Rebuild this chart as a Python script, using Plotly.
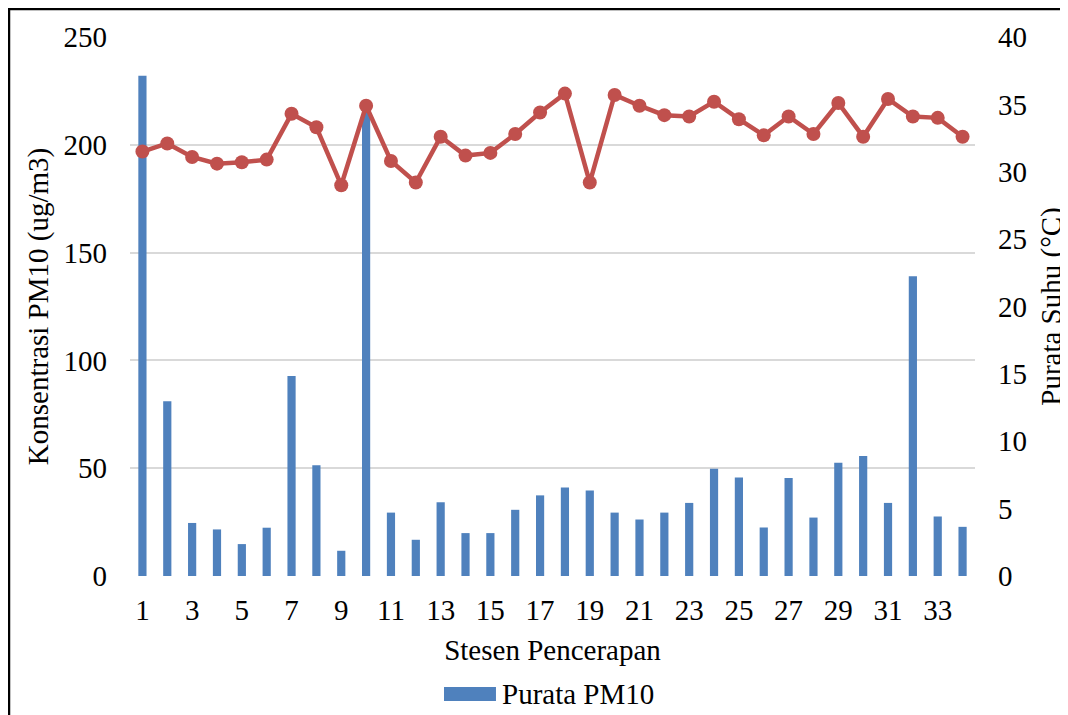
import plotly.graph_objects as go

stations = list(range(1, 35))
pm10 = [232, 81, 24.6, 21.6, 14.8, 22.4, 92.8, 51.4, 11.7, 216,
        29.4, 16.8, 34.2, 19.9, 19.9, 30.7, 37.4, 41.1, 39.7, 29.4,
        26.2, 29.4, 33.9, 49.7, 45.7, 22.5, 45.4, 27.1, 52.5, 55.7,
        33.9, 139, 27.6, 22.8]
suhu = [31.5, 32.1, 31.1, 30.6, 30.7, 30.9, 34.3, 33.3, 29.0, 34.9,
        30.8, 29.2, 32.6, 31.2, 31.4, 32.8, 34.4, 35.8, 29.2, 35.7,
        34.9, 34.2, 34.1, 35.2, 33.9, 32.7, 34.1, 32.8, 35.1, 32.6,
        35.4, 34.1, 34.0, 32.6]
x_ticks = list(range(1, 35, 2))
y_left_ticks = [0, 50, 100, 150, 200, 250]
y_right_ticks = [0, 5, 10, 15, 20, 25, 30, 35, 40]

FONT = "Liberation Serif"
FS = 29
BAR_COLOR = "#4f81bd"
LINE_COLOR = "#c0504d"

fig = go.Figure()
fig.add_trace(go.Bar(x=stations, y=pm10, name="Purata PM10",
                     marker=dict(color=BAR_COLOR, line=dict(width=0)),
                     showlegend=False, yaxis="y"))
fig.add_trace(go.Scatter(x=stations, y=suhu, name="Purata Suhu",
                         mode="lines+markers", showlegend=False,
                         line=dict(color=LINE_COLOR, width=4.5),
                         marker=dict(color=LINE_COLOR, size=14),
                         yaxis="y2"))

fig.update_layout(
    width=1060, height=707,
    margin=dict(l=122, r=93, t=29, b=139, autoexpand=False),
    paper_bgcolor="white", plot_bgcolor="white",
    font=dict(family=FONT, size=FS, color="black"),
    bargap=0.67,
    xaxis=dict(range=[0.5, 34.5], tickmode="array", tickvals=x_ticks,
               ticktext=[str(v) for v in x_ticks], showgrid=False,
               zeroline=False, showline=False, ticks="", automargin=False,
               ticklabelstandoff=14,
               title=dict(text="Stesen Pencerapan", standoff=14,
                          font=dict(size=FS))),
    yaxis=dict(range=[0, 250], tickmode="array", tickvals=y_left_ticks,
               showgrid=True, gridcolor="#d9d9d9", gridwidth=1.5,
               zeroline=False, showline=False, ticks="", automargin=False,
               ticklabelstandoff=22,
               title=dict(text="Konsentrasi PM10 (ug/m3)", standoff=6,
                          font=dict(size=FS))),
    yaxis2=dict(range=[0, 40], tickmode="array", tickvals=y_right_ticks,
                overlaying="y", side="right", showgrid=False,
                zeroline=False, showline=False, ticks="", automargin=False,
                ticklabelstandoff=22,
                title=dict(text="Purata Suhu (°C)", standoff=14,
                           font=dict(size=FS))),
    showlegend=False,
)

# legend (wide swatch like the reference)
fig.add_shape(type="rect", xref="paper", yref="paper",
              x0=0.3716, x1=0.4331, y0=-0.2319, y1=-0.2059,
              fillcolor=BAR_COLOR, line=dict(width=0))
fig.add_annotation(xref="paper", yref="paper", x=0.4379, y=-0.2189,
                   xanchor="left", yanchor="middle", showarrow=False,
                   text="Purata PM10", font=dict(size=FS))

# outer frame
fig.add_shape(type="rect", xref="paper", yref="paper",
              x0=-0.1432, x1=1.3, y0=-0.5, y1=1.052,
              line=dict(color="black", width=2.5), layer="above")

fig.write_html("out.html")
